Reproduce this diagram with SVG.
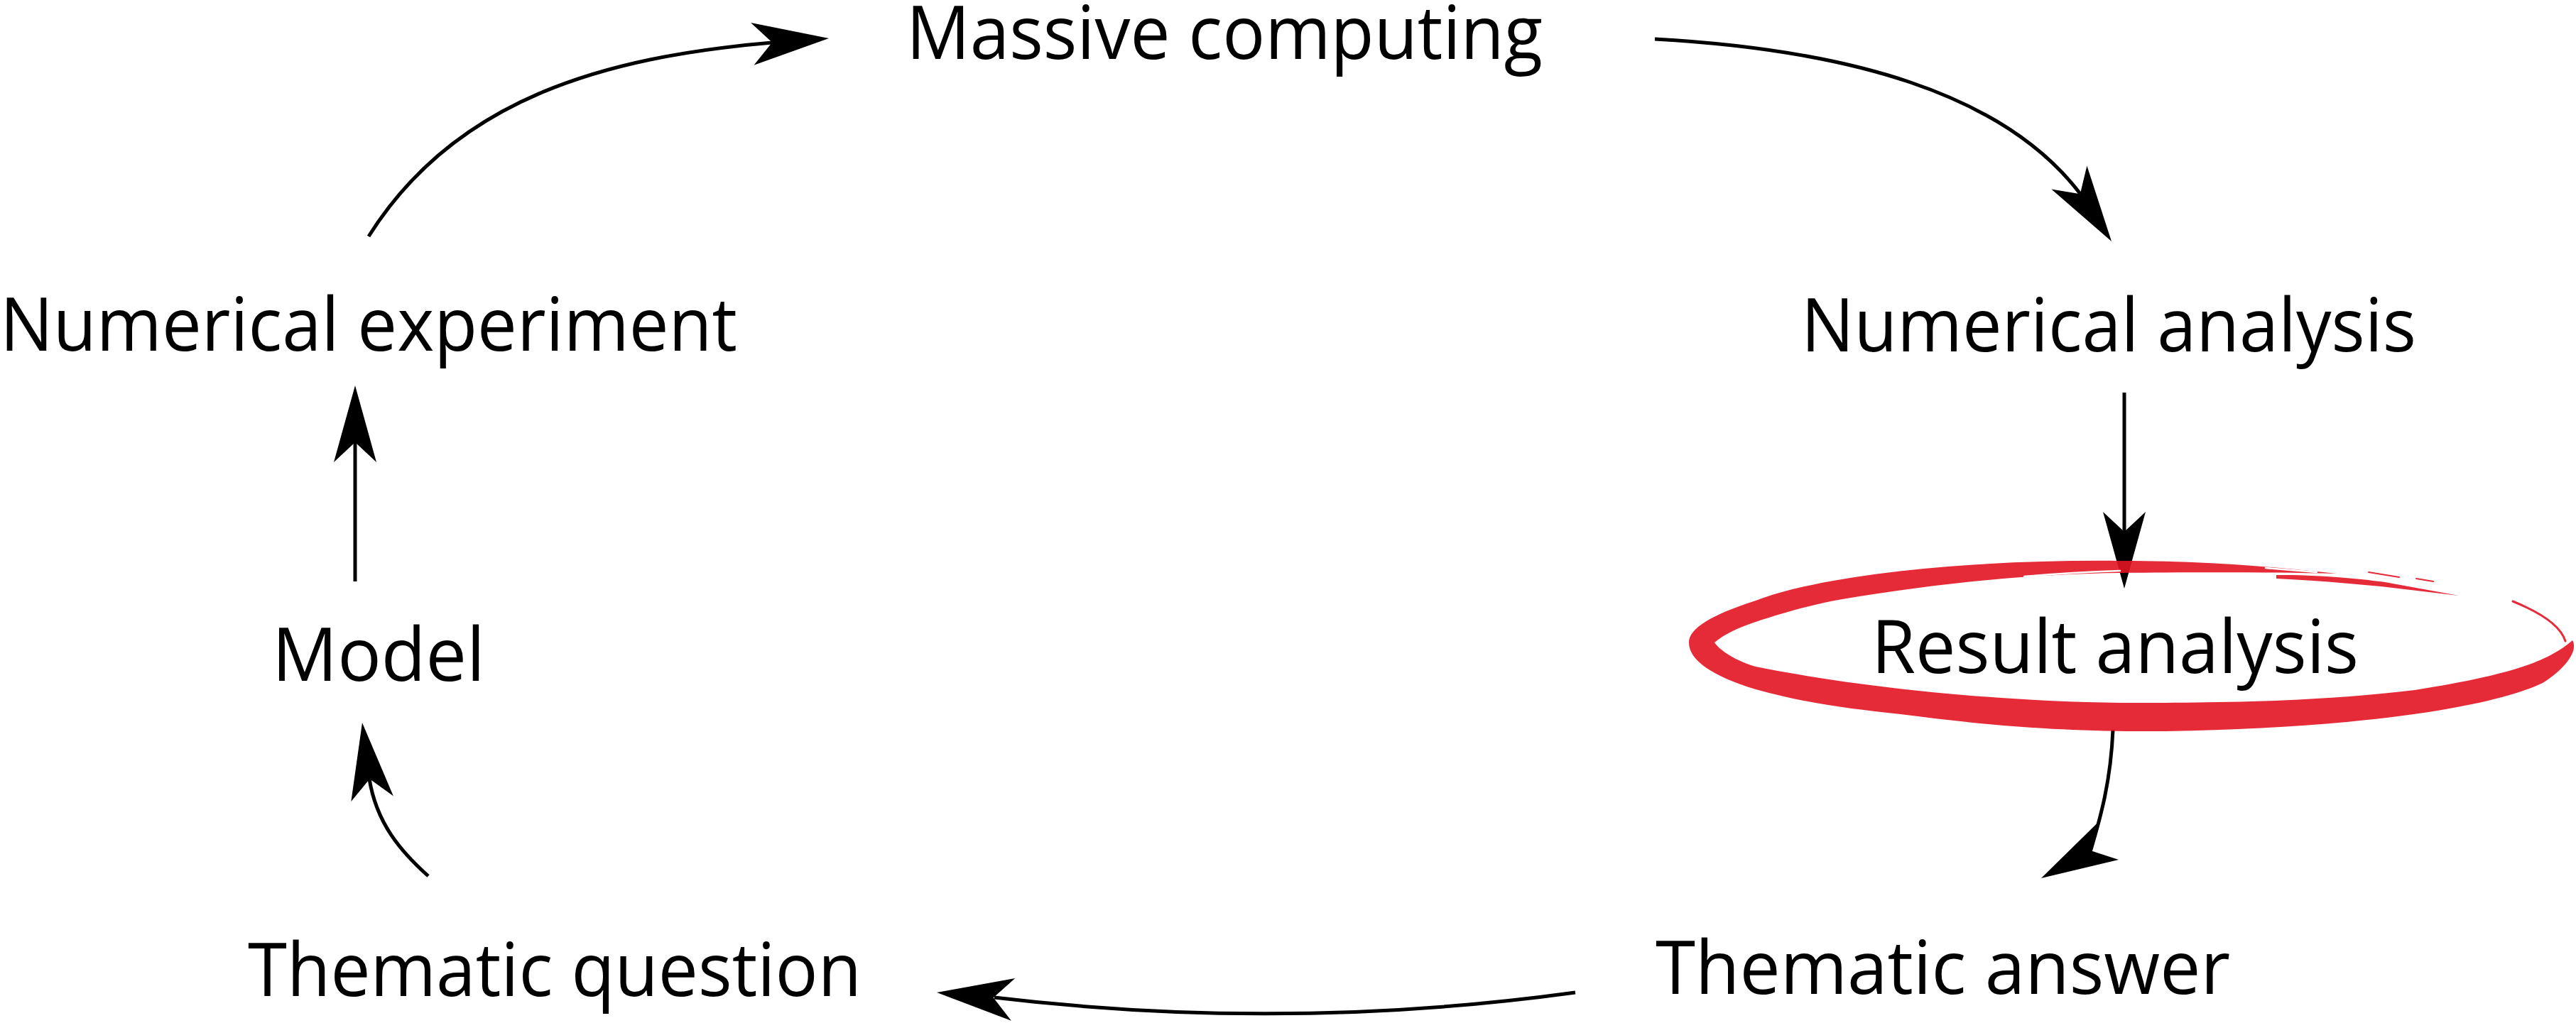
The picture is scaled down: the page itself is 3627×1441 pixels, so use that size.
<svg xmlns="http://www.w3.org/2000/svg" xmlns:xlink="http://www.w3.org/1999/xlink" width="3627" height="1441" viewBox="0 0 3627 1441">
<style>
.lbl{font-family:"Open Sans","Noto Sans","DejaVu Sans",sans-serif;font-size:104px;fill:#000}
.conn{fill:none;stroke:#000;stroke-width:5}
.head{fill:#000}
.brush{fill:#e21322;fill-opacity:0.9}
.thin{fill:none;stroke:#e21322;stroke-opacity:0.9;stroke-linecap:round}
.streak{fill:none;stroke:#fff;stroke-linecap:round}
</style>
<defs>
<path id="ah" d="M0,0 L-108,-30 L-80,0 L-108,30 Z"/>
</defs>
<rect width="3627" height="1441" fill="#fff"/>
<g id="connectors">
<path class="conn" d="M519,333 C640,140 850,80 1087,60"/>
<use class="head" xlink:href="#ah" transform="translate(1167,54) rotate(-4.2)"/>
<path class="conn" d="M2330,55 C2600,70 2820,130 2929,273"/>
<use class="head" xlink:href="#ah" transform="translate(2973,340) rotate(56.5)"/>
<path class="conn" d="M2991,553 L2991,752"/>
<use class="head" xlink:href="#ah" transform="translate(2991,829) rotate(90)"/>
<path class="conn" d="M2975,1028 C2972,1100 2958,1150 2943,1200"/>
<use class="head" xlink:href="#ah" transform="translate(2874,1237) rotate(151)"/>
<path class="conn" d="M2218,1398 Q1810,1454 1400,1405"/>
<use class="head" xlink:href="#ah" transform="translate(1319,1398) rotate(185.2)"/>
<path class="conn" d="M603,1234 C565,1200 530,1160 520,1097"/>
<use class="head" xlink:href="#ah" transform="translate(510,1018) rotate(-97.5)"/>
<path class="conn" d="M500,819 L500,620"/>
<use class="head" xlink:href="#ah" transform="translate(500,543) rotate(-90)"/>
</g>
<g id="node-massive-computing"><text class="lbl" x="1276" y="83" textLength="896" lengthAdjust="spacingAndGlyphs">Massive computing</text></g>
<g id="node-numerical-experiment"><text class="lbl" x="0" y="494" textLength="1038" lengthAdjust="spacingAndGlyphs">Numerical experiment</text></g>
<g id="node-numerical-analysis"><text class="lbl" x="2536" y="495" textLength="866" lengthAdjust="spacingAndGlyphs">Numerical analysis</text></g>
<g id="node-model"><text class="lbl" x="383" y="959" textLength="300" lengthAdjust="spacingAndGlyphs">Model</text></g>
<g id="node-result-analysis">
<path class="brush" d="M3290,808 C3200,798 3100,790 2985,790 C2800,788 2580,805 2472,846 C2410,866 2378,885 2378,905 C2378,930 2410,952 2472,971 C2540,990 2600,998 2676,1006 C2800,1022 2900,1031 3050,1030 C3300,1026 3500,1000 3580,962 C3615,940 3630,915 3622,902 C3590,930 3540,950 3400,972 C3250,990 3100,990 2985,990 C2800,988 2600,965 2472,939 C2445,931 2422,917 2414,905 C2428,893 2448,884 2472,876 C2520,860 2560,850 2594,844 C2750,818 2880,808 2985,807 C3100,806 3200,806 3290,808 Z"/>
<path class="brush" d="M3205,810 C3260,809 3330,816 3358,820 L3462,839 L3352,826 C3300,821 3250,817 3205,815 Z"/>
<path class="thin" stroke-width="3" d="M3538,847 C3575,862 3605,880 3612,903"/>
<path class="thin" stroke-width="2" d="M3335,806 L3378,813"/>
<path class="thin" stroke-width="2" d="M3402,815 L3426,819"/>
<path class="streak" stroke-width="2.5" d="M2850,812 Q2920,806 2985,804"/>
<path class="streak" stroke-width="2.5" d="M3190,800 L3262,806"/>
<text class="lbl" x="2635" y="948" textLength="686" lengthAdjust="spacingAndGlyphs">Result analysis</text>
</g>
<g id="node-thematic-question"><text class="lbl" x="349" y="1403" textLength="864" lengthAdjust="spacingAndGlyphs">Thematic question</text></g>
<g id="node-thematic-answer"><text class="lbl" x="2331" y="1400" textLength="809" lengthAdjust="spacingAndGlyphs">Thematic answer</text></g>
</svg>
